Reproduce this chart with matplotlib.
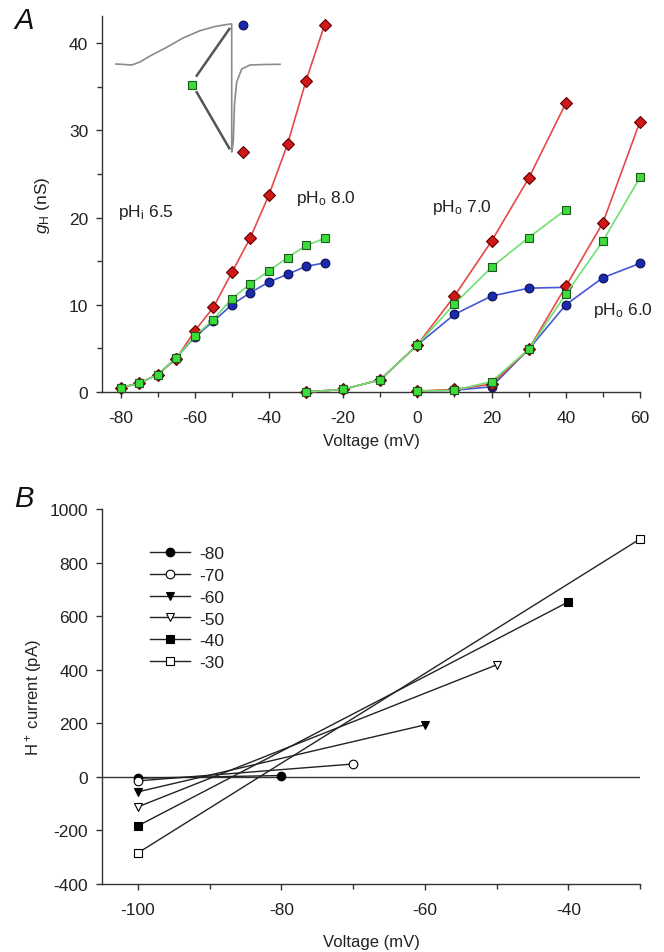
import matplotlib
matplotlib.use("Agg")
import matplotlib.pyplot as plt
from matplotlib.ticker import MultipleLocator

plt.rcParams['font.family'] = ['Liberation Sans', 'DejaVu Sans']
plt.rcParams['mathtext.fontset'] = 'custom'
plt.rcParams['mathtext.rm'] = 'Liberation Sans'
plt.rcParams['mathtext.it'] = 'Liberation Sans:italic'
plt.rcParams['axes.unicode_minus'] = False

# ---------------- Panel A data ----------------
v_ph8 = [-80, -75, -70, -65, -60, -55, -50, -45, -40, -35, -30, -25]
red_ph8 = [0.5, 1.0, 2.0, 3.8, 7.0, 9.7, 13.7, 17.7, 22.6, 28.4, 35.7, 42.1]
green_ph8 = [0.5, 1.0, 2.0, 3.9, 6.4, 8.3, 10.7, 12.4, 13.9, 15.4, 16.8, 17.6]
blue_ph8 = [0.5, 1.0, 2.0, 3.9, 6.3, 8.1, 10.0, 11.4, 12.6, 13.5, 14.4, 14.8]

v_ph7 = [-30, -20, -10, 0, 10, 20, 30, 40]
red_ph7 = [0.0, 0.3, 1.4, 5.4, 11.0, 17.3, 24.5, 33.1]
green_ph7 = [0.0, 0.3, 1.4, 5.4, 10.1, 14.3, 17.7, 20.9]
blue_ph7 = [0.0, 0.3, 1.4, 5.4, 8.9, 11.0, 11.9, 12.0]

v_ph6 = [0, 10, 20, 30, 40, 50, 60]
red_ph6 = [0.1, 0.3, 0.9, 4.9, 12.1, 19.4, 31.0]
green_ph6 = [0.1, 0.2, 1.2, 4.9, 11.2, 17.3, 24.6]
blue_ph6 = [0.1, 0.2, 0.6, 4.9, 10.0, 13.1, 14.75]

# ---------------- Panel B data ----------------
b_labels = ['-80', '-70', '-60', '-50', '-40', '-30']
b_x = [[-100, -80], [-100, -70], [-100, -60], [-100, -50], [-100, -40], [-100, -30]]
b_y = [[-5, 5], [-15, 48], [-56, 194], [-112, 418], [-183, 653], [-284, 888]]
b_markers = ['o', 'o', 'v', 'v', 's', 's']
b_fill = ['black', 'white', 'black', 'white', 'black', 'white']

# inset schematic trace (figure-pixel space of the inset)
trace_x = [116, 124, 131.7, 140, 150, 166.7, 183, 200, 215, 230, 231.7,
           231.7, 233.3, 234.5, 236.7, 241.7, 250, 265, 280]
trace_y = [65, 65.5, 66, 63, 57, 48.3, 39, 31.7, 27.5, 25, 25,
           153, 143, 105, 83, 70, 66, 65.5, 65.3]

W, H = 664, 953
fig = plt.figure(figsize=(W / 100, H / 100), dpi=100)

def fx(px):
    return px / W

def fy(py):
    return 1 - py / H

FS = 12.5
spine_col = '#333333'
txt_col = '#222222'

axA = fig.add_axes([fx(102), fy(393), fx(640) - fx(102), fy(17) - fy(393)])
axB = fig.add_axes([fx(102), fy(885), fx(640) - fx(102), fy(510) - fy(885)])

red_line, red_face, red_edge = '#E84848', '#D01818', '#600000'
grn_line, grn_face, grn_edge = '#70E070', '#3CDC3C', '#1E5A1E'
blu_line, blu_face, blu_edge = '#4656D6', '#1A2AAE', '#0A0F50'

def plot_set(ax, v, b, r, g):
    ax.plot(v, b, '-', color=blu_line, lw=1.2, marker='o', ms=6.3,
            mfc=blu_face, mec=blu_edge, mew=0.8, clip_on=False, zorder=3)
    ax.plot(v, r, '-', color=red_line, lw=1.2, marker='D', ms=5.8,
            mfc=red_face, mec=red_edge, mew=0.8, clip_on=False, zorder=4)
    ax.plot(v, g, '-', color=grn_line, lw=1.2, marker='s', ms=5.6,
            mfc=grn_face, mec=grn_edge, mew=0.8, clip_on=False, zorder=5)

plot_set(axA, v_ph8, blue_ph8, red_ph8, green_ph8)
plot_set(axA, v_ph7, blue_ph7, red_ph7, green_ph7)
plot_set(axA, v_ph6, blue_ph6, red_ph6, green_ph6)

axA.set_xlim(-85, 60)
axA.set_ylim(0, 43.1)
axA.xaxis.set_major_locator(MultipleLocator(20))
axA.xaxis.set_minor_locator(MultipleLocator(10))
axA.yaxis.set_major_locator(MultipleLocator(10))
axA.yaxis.set_minor_locator(MultipleLocator(5))
axA.set_xlabel('Voltage (mV)', fontsize=FS - 0.5, labelpad=6, color=txt_col)
axA.set_ylabel(r'$g_\mathregular{H}$ (nS)', fontsize=FS, labelpad=12, color=txt_col)

axA.text(-80.8, 20.7, r'pH$_\mathregular{i}$ 6.5', fontsize=FS, va='center', color=txt_col)
axA.text(-32.8, 22.3, r'pH$_\mathregular{o}$ 8.0', fontsize=FS, va='center', color=txt_col)
axA.text(3.9, 21.3, r'pH$_\mathregular{o}$ 7.0', fontsize=FS, va='center', color=txt_col)
axA.text(47.3, 9.5, r'pH$_\mathregular{o}$ 6.0', fontsize=FS, va='center', color=txt_col)

# ---------------- Panel B ----------------
axB.axhline(0, color='#333333', lw=1.0, zorder=1)
handles = []
for xs, ys, m, fc, lab in zip(b_x, b_y, b_markers, b_fill, b_labels):
    ln, = axB.plot(xs, ys, '-', color='#222222', lw=1.0, marker=m, ms=6.2,
                   mfc=fc, mec='black', mew=0.8, clip_on=False, zorder=3, label=lab)
    handles.append(ln)

axB.set_xlim(-105, -30)
axB.set_ylim(-400, 1000)
axB.xaxis.set_major_locator(MultipleLocator(20))
axB.xaxis.set_minor_locator(MultipleLocator(10))
axB.yaxis.set_major_locator(MultipleLocator(200))
axB.set_xlabel('Voltage (mV)', fontsize=FS - 0.5, labelpad=12, color=txt_col)
axB.set_ylabel(r'H$^+$ current (pA)', fontsize=FS - 0.5, labelpad=4, color=txt_col)
leg = axB.legend(handles=handles, loc='upper left', bbox_to_anchor=(0.089, 0.901),
                 frameon=False, fontsize=FS, handlelength=2.3, handletextpad=0.57,
                 labelspacing=0.38, borderpad=0, borderaxespad=0)
for t in leg.get_texts():
    t.set_color(txt_col)

for ax in (axA, axB):
    for s in ('top', 'right'):
        ax.spines[s].set_visible(False)
    for s in ('left', 'bottom'):
        ax.spines[s].set_color(spine_col)
        ax.spines[s].set_linewidth(1.0)
    ax.tick_params(which='major', direction='out', length=4, width=1.0,
                   color=spine_col, labelsize=FS, labelcolor=txt_col)
    ax.tick_params(which='minor', direction='out', length=3.5, width=1.0, color=spine_col)
    ax.tick_params(axis='x', which='major', pad=9)
    ax.tick_params(axis='y', which='major', pad=6)

# ---------------- Inset schematic ----------------
axI = fig.add_axes([fx(105), fy(165), fx(290) - fx(105), fy(15) - fy(165)])
axI.set_xlim(105, 290)
axI.set_ylim(165, 15)
axI.axis('off')
axI.patch.set_alpha(0)
axI.plot(trace_x, trace_y, '-', color='#8a8a8a', lw=1.2)
axI.plot([196.7, 229.3], [76.7, 30], '-', color='#555555', lw=1.8)
axI.plot([196.7, 229.3], [93.3, 149.3], '-', color='#555555', lw=1.8)
axI.plot([192.3], [85.7], 's', ms=5.6, mfc=grn_face, mec=grn_edge, mew=0.8)
axI.plot([242.7], [26], 'o', ms=6.3, mfc=blu_face, mec=blu_edge, mew=0.8)
axI.plot([243.3], [152.7], 'D', ms=5.8, mfc=red_face, mec=red_edge, mew=0.8)

# panel letters
fig.text(fx(14), fy(21), 'A', fontsize=21, style='italic', va='center', ha='left', color='#111111')
fig.text(fx(14), fy(499), 'B', fontsize=21, style='italic', va='center', ha='left', color='#111111')

fig.savefig('out.png', dpi=100)
